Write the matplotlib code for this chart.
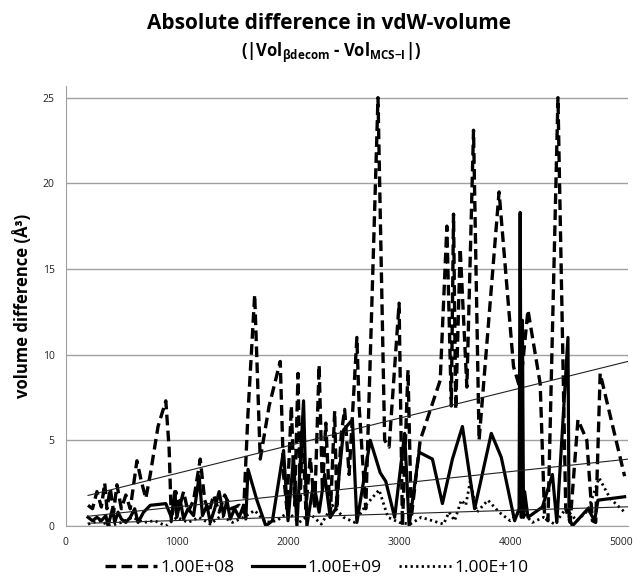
import numpy as np
import matplotlib.pyplot as plt

plt.rcParams['font.family'] = ['Open Sans', 'DejaVu Sans']
plt.rcParams['mathtext.fontset'] = 'custom'
plt.rcParams['mathtext.rm'] = 'Open Sans:bold'
plt.rcParams['mathtext.it'] = 'Open Sans:bold'
plt.rcParams['mathtext.bf'] = 'Open Sans:bold'

# 1.00E+08 (dashed)
x_e8 = [200, 240, 280, 320, 350, 370, 400, 430, 460, 500, 540, 580, 640, 680, 720, 760,
        830, 900, 930, 950, 990, 1020, 1060, 1100, 1150, 1210, 1250, 1290, 1330, 1380,
        1430, 1490, 1560, 1600, 1640, 1700, 1750, 1830, 1930, 1960, 1990, 2030, 2060,
        2090, 2110, 2130, 2160, 2200, 2240, 2280, 2310, 2340, 2380, 2420, 2440, 2480,
        2510, 2550, 2620, 2640, 2700, 2810, 2870, 2910, 3000, 3030, 3080, 3110, 3190,
        3370, 3430, 3470, 3490, 3510, 3550, 3610, 3670, 3720, 3900, 4030, 4090, 4160,
        4270, 4310, 4340, 4430, 4500, 4540, 4610, 4690, 4740, 4770, 4810, 5030]
y_e8 = [1.2, 1.0, 2.0, 1.1, 2.5, 1.0, 2.2, 0.8, 2.4, 1.0, 1.8, 1.0, 3.8, 2.6, 1.6, 3.0,
        5.8, 7.3, 4.5, 0.3, 2.0, 1.0, 2.0, 0.8, 1.5, 3.9, 1.5, 0.8, 1.8, 0.8,
        1.8, 1.0, 1.2, 0.8, 6.6, 13.5, 3.9, 7.0, 9.6, 3.0, 1.0, 7.0, 1.2,
        8.9, 1.5, 6.0, 1.0, 4.0, 1.0, 9.4, 2.0, 6.0, 0.5, 6.7, 1.0, 5.4,
        6.8, 3.0, 11.0, 7.0, 1.0, 25.0, 5.0, 4.6, 13.0, 0.0, 9.1, 0.5, 5.0,
        8.5, 17.5, 7.0, 18.2, 6.8, 16.2, 8.1, 23.1, 5.0, 19.5, 9.3, 8.0, 12.6,
        8.3, 0.5, 0.3, 25.0, 1.0, 0.2, 6.2, 5.0, 0.3, 0.2, 8.9, 2.9]

# 1.00E+09 (solid)
x_e9 = [200, 240, 280, 320, 360, 380, 420, 440, 470, 500, 540, 580, 620, 650, 700, 760,
        900, 950, 980, 1000, 1030, 1060, 1100, 1150, 1200, 1230, 1270, 1300, 1340, 1380,
        1420, 1450, 1480, 1520, 1560, 1600, 1620, 1640, 1720, 1800, 1860, 1960, 2000,
        2050, 2080, 2140, 2170, 2230, 2280, 2330, 2380, 2430, 2500, 2580, 2620, 2740,
        2830, 2880, 2960, 3050, 3090, 3180, 3300, 3390, 3480, 3570, 3680, 3830, 3920,
        4040, 4080, 4090, 4100, 4110, 4120, 4130, 4160, 4290, 4380, 4420, 4520,
        4530, 4560, 4700, 4760, 4790, 5030]
y_e9 = [0.5, 0.3, 0.5, 0.3, 0.6, 0.0, 1.0, 0.2, 0.8, 0.4, 0.2, 0.5, 1.0, 0.2, 0.8, 1.2,
        1.3, 0.5, 2.0, 0.5, 1.5, 0.4, 1.0, 0.6, 2.9, 0.6, 1.2, 0.2, 1.0, 2.0,
        0.6, 1.5, 0.4, 1.0, 0.5, 1.2, 0.4, 3.3, 1.5, 0.0, 0.3, 4.4, 0.3,
        4.0, 0.0, 7.3, 0.0, 2.5, 0.8, 3.0, 0.5, 1.0, 5.6, 6.2, 0.2, 5.0,
        3.1, 2.6, 0.5, 5.4, 0.0, 4.3, 3.9, 1.3, 3.9, 5.8, 1.0, 5.4, 4.0,
        0.3, 1.0, 18.3, 0.5, 12.0, 0.5, 2.0, 0.5, 1.1, 3.0, 0.2, 11.0,
        0.5, 0.0, 1.0, 0.3, 1.5, 1.7]

# 1.00E+10 (dotted)
x_e10 = [200, 300, 400, 500, 600, 700, 800, 900, 1000, 1100, 1200, 1300, 1400, 1500,
         1600, 1700, 1800, 1900, 2000, 2100, 2200, 2300, 2400, 2500, 2600, 2700, 2820,
         2900, 3000, 3100, 3200, 3300, 3400, 3450, 3500, 3560, 3600, 3640, 3700, 3800,
         3900, 4000, 4100, 4200, 4300, 4400, 4500, 4600, 4700, 4800, 4900, 5030]
y_e10 = [0.1, 0.3, 0.0, 0.2, 0.5, 0.2, 0.3, 0.0, 0.5, 0.2, 0.5, 0.1, 0.6, 0.2,
         0.5, 0.9, 0.2, 0.3, 0.8, 0.2, 0.7, 0.1, 1.2, 0.5, 0.2, 1.2, 2.1,
         0.5, 0.2, 0.1, 0.5, 0.3, 0.1, 0.8, 0.3, 1.5, 1.2, 2.6, 0.8, 1.5,
         0.8, 0.3, 0.9, 0.2, 0.5, 0.1, 1.0, 0.3, 0.9, 2.8, 1.6, 0.8]

labels = ['1.00E+08', '1.00E+09', '1.00E+10']
series = [(x_e8, y_e8, (3.2, 1.6), 2.4),
          (x_e9, y_e9, None, 2.3),
          (x_e10, y_e10, (0.8, 1.2), 2.0)]

fig = plt.figure(figsize=(6.33, 5.83), dpi=100)
ax = fig.add_axes([0.104, 0.098, 0.888, 0.755])

handles = []
for (xs, ys, dash, lw), lab in zip(series, labels):
    xs = np.array(xs)
    ys = np.array(ys)
    line, = ax.plot(xs, ys, color='black', lw=lw, label=lab)
    if dash is not None:
        line.set_dashes(dash)
    handles.append(line)
    # linear trendline
    b, a = np.polyfit(xs, ys, 1)
    xt = np.array([xs.min(), 5080])
    ax.plot(xt, a + b * xt, color='#222222', lw=0.8)

ax.set_xlim(0, 5060)
ax.set_ylim(0, 25.7)
ax.set_xticks([0, 1000, 2000, 3000, 4000, 5000])
ax.set_yticks([0, 5, 10, 15, 20, 25])
ax.yaxis.grid(True, color='#a0a0a0', lw=1)
ax.set_axisbelow(True)
for s in ['top', 'right']:
    ax.spines[s].set_visible(False)
ax.spines['left'].set_color('#a0a0a0')
ax.spines['bottom'].set_color('#a0a0a0')
ax.tick_params(axis='both', length=0, labelsize=7.5, colors='#222222', pad=8)
ax.set_ylabel('volume difference (Å³)', fontsize=12, fontweight='bold', labelpad=8)

fig.text(0.52, 0.96, 'Absolute difference in vdW-volume', ha='center', va='center',
         fontsize=15, fontweight='bold')
fig.text(0.523, 0.91, r'(|Vol$_{\beta\mathrm{decom}}$ - Vol$_{\mathrm{MCS{-}I}}$|)',
         ha='center', va='center', fontsize=12, fontweight='bold')

fig.legend(handles, labels, loc='center', bbox_to_anchor=(0.5, 0.026), ncol=3,
           frameon=False, fontsize=12.5, handlelength=3.0, columnspacing=1.0,
           handletextpad=0.2)

fig.savefig('out.png', dpi=100)
